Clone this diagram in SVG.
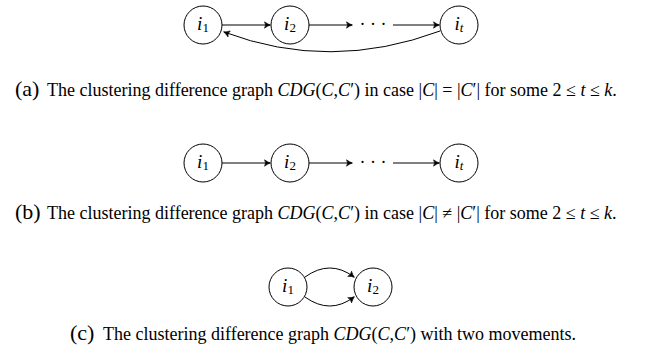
<svg xmlns="http://www.w3.org/2000/svg" width="650" height="358" viewBox="0 0 650 358">
<style>
.n{fill:#fff;stroke:#000;stroke-width:1}
.lb{font-family:"Liberation Serif",serif;font-size:19px;font-style:italic;text-anchor:middle}
.sb{font-style:normal;font-size:13px}
.e{fill:none;stroke:#000;stroke-width:1}
.cap{font-family:"Liberation Serif",serif;font-size:18px}
.big{font-size:22px}
.it{font-style:italic}
.dots{font-family:"Liberation Serif",serif;font-size:18px}
</style>
<defs>
<marker id="ah" viewBox="-6 -4 8 8" refX="0" refY="0" markerWidth="8" markerHeight="8" markerUnits="userSpaceOnUse" orient="auto">
<path d="M-5.5,-3.2 Q-2,-0.6 0.5,0 Q-2,0.6 -5.5,3.2 Q-3.5,0 -5.5,-3.2Z" fill="#000" stroke="#000" stroke-width="0.6" stroke-linejoin="round"/>
</marker>
</defs>
<g id="connectors">
<line class="e" x1="222" y1="25" x2="270" y2="25" marker-end="url(#ah)"/>
<line class="e" x1="309" y1="25" x2="352" y2="25" marker-end="url(#ah)"/>
<line class="e" x1="393" y1="25" x2="439" y2="25" marker-end="url(#ah)"/>
<path class="e" d="M440,31 Q330,72 224,32" marker-end="url(#ah)"/>
<line class="e" x1="222" y1="163" x2="270" y2="163" marker-end="url(#ah)"/>
<line class="e" x1="309" y1="163" x2="352" y2="163" marker-end="url(#ah)"/>
<line class="e" x1="393" y1="163" x2="439" y2="163" marker-end="url(#ah)"/>
<path class="e" d="M305,277 Q330,259 354,277" marker-end="url(#ah)"/>
<path class="e" d="M305,297 Q330,315 354,297" marker-end="url(#ah)"/>
</g>
<g id="dots-a"><text class="dots" x="373" y="30" text-anchor="middle">· · ·</text></g>
<g id="dots-b"><text class="dots" x="373" y="168" text-anchor="middle">· · ·</text></g>
<g id="a-i1"><circle class="n" cx="203" cy="25" r="19"/><text class="lb" x="203" y="30">i<tspan class="sb" dy="2">1</tspan></text></g>
<g id="a-i2"><circle class="n" cx="290" cy="25" r="19"/><text class="lb" x="290" y="30">i<tspan class="sb" dy="2">2</tspan></text></g>
<g id="a-it"><circle class="n" cx="459" cy="25" r="19"/><text class="lb" x="459" y="30">i<tspan class="sb it" dy="2">t</tspan></text></g>
<g id="b-i1"><circle class="n" cx="203" cy="163" r="19"/><text class="lb" x="203" y="168">i<tspan class="sb" dy="2">1</tspan></text></g>
<g id="b-i2"><circle class="n" cx="290" cy="163" r="19"/><text class="lb" x="290" y="168">i<tspan class="sb" dy="2">2</tspan></text></g>
<g id="b-it"><circle class="n" cx="459" cy="163" r="19"/><text class="lb" x="459" y="168">i<tspan class="sb it" dy="2">t</tspan></text></g>
<g id="c-i1"><circle class="n" cx="288" cy="287" r="19"/><text class="lb" x="288" y="292">i<tspan class="sb" dy="2">1</tspan></text></g>
<g id="c-i2"><circle class="n" cx="373" cy="287" r="19"/><text class="lb" x="373" y="292">i<tspan class="sb" dy="2">2</tspan></text></g>
<g id="captions">
<text class="cap" x="15" y="96"><tspan class="big">(a)</tspan><tspan x="47">The clustering difference graph </tspan><tspan class="it">CDG</tspan>(<tspan class="it">C</tspan>,<tspan class="it">C</tspan>′) in case |<tspan class="it">C</tspan>| = |<tspan class="it">C</tspan>′| for some 2 ≤ <tspan class="it">t</tspan> ≤ <tspan class="it">k</tspan>.</text>
<text class="cap" x="15" y="219"><tspan class="big">(b)</tspan><tspan x="47">The clustering difference graph </tspan><tspan class="it">CDG</tspan>(<tspan class="it">C</tspan>,<tspan class="it">C</tspan>′) in case |<tspan class="it">C</tspan>| ≠ |<tspan class="it">C</tspan>′| for some 2 ≤ <tspan class="it">t</tspan> ≤ <tspan class="it">k</tspan>.</text>
<text class="cap" x="70" y="340"><tspan class="big">(c)</tspan><tspan x="103">The clustering difference graph </tspan><tspan class="it">CDG</tspan>(<tspan class="it">C</tspan>,<tspan class="it">C</tspan>′) with two movements.</text>
</g>
</svg>
